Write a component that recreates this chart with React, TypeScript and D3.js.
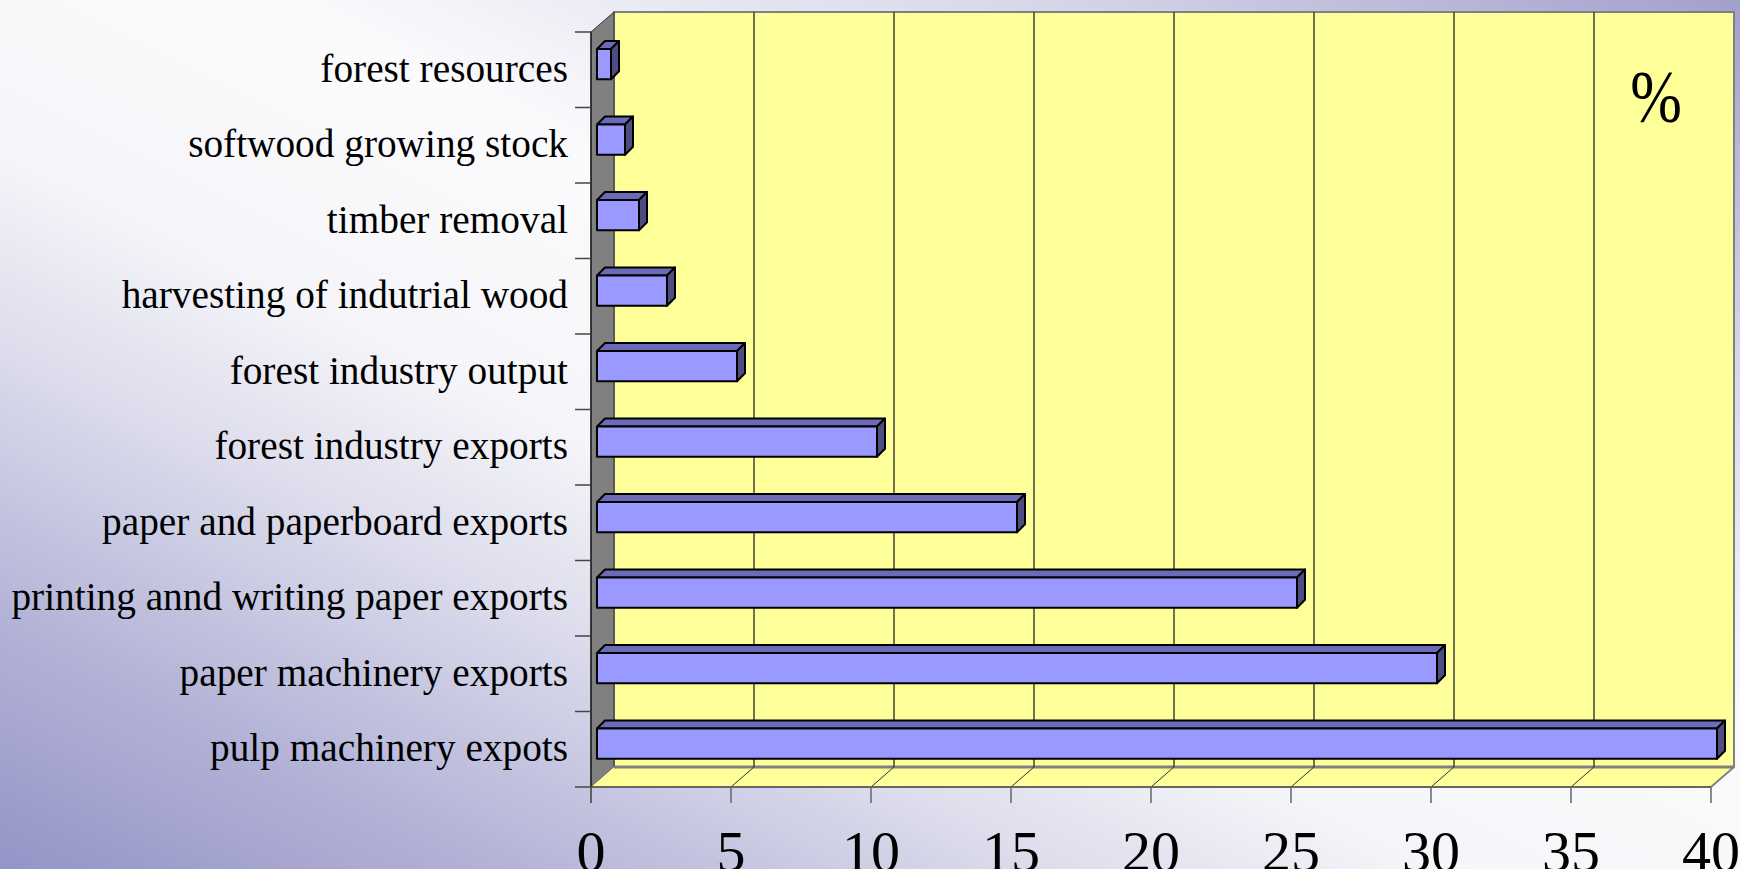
import * as d3 from 'd3';

const categories = [
  'forest resources',
  'softwood growing stock',
  'timber removal',
  'harvesting of indutrial wood',
  'forest industry output',
  'forest industry exports',
  'paper and paperboard exports',
  'printing annd writing paper exports',
  'paper machinery exports',
  'pulp machinery expots',
];
const values = [0.5, 1, 1.5, 2.5, 5, 10, 15, 25, 30, 40];
const xTicks = [0, 5, 10, 15, 20, 25, 30, 35, 40];
const unitLabel = '%';

const W = 1740;
const H = 869;
// front plane of the 3D box and its depth offset
const FRONT = { left: 591, right: 1711, top: 32, bottom: 787 };
const DX = 23;
const DY = 20;
// bar depth offsets
const BDX = 8;
const BDY = 8;

export default function App() {
  const x = d3.scaleLinear().domain([0, 40]).range([FRONT.left, FRONT.right]);
  const y = d3.scaleBand<string>().domain(categories).range([FRONT.top, FRONT.bottom]);
  const bw = y.bandwidth();
  const barTop = bw * 0.225;
  const barH = bw * 0.4;
  const barShift = 6;

  const backTop = FRONT.top - DY;
  const backBottom = FRONT.bottom - DY;
  const bx = (v: number) => x(v) + DX;

  const pts = (p: [number, number][]) => p.map(d => d.join(',')).join(' ');

  return (
    <svg
      width={W}
      height={H}
      style={{ position: 'absolute', left: 0, top: 0, display: 'block' }}
      fontFamily="'Liberation Serif', 'Times New Roman', serif"
    >
      <defs>
        <linearGradient id="bg" x1={0} y1={1} x2={1} y2={0}>
          <stop offset="0" stopColor="#9494c7" />
          <stop offset="0.15" stopColor="#b4b4d8" />
          <stop offset="0.3" stopColor="#dcdcec" />
          <stop offset="0.42" stopColor="#f6f6fa" />
          <stop offset="0.58" stopColor="#fbfbfd" />
          <stop offset="0.8" stopColor="#d6d6e9" />
          <stop offset="1" stopColor="#a0a0cc" />
        </linearGradient>
      </defs>
      <rect width={W} height={H} fill="url(#bg)" />

      {/* back wall */}
      <rect
        x={bx(0)}
        y={backTop}
        width={bx(40) - bx(0)}
        height={backBottom - backTop}
        fill="#ffff99"
        stroke="#808080"
        strokeWidth={2}
      />
      {/* side wall */}
      <polygon
        points={pts([
          [x(0), FRONT.top],
          [bx(0), backTop],
          [bx(0), backBottom],
          [x(0), FRONT.bottom],
        ])}
        fill="#808080"
        stroke="#333"
        strokeWidth={1}
      />
      {/* floor */}
      <polygon
        points={pts([
          [x(0), FRONT.bottom],
          [bx(0), backBottom],
          [bx(40), backBottom],
          [x(40), FRONT.bottom],
        ])}
        fill="#ffff99"
      />
      <line x1={bx(0)} x2={bx(40)} y1={backBottom} y2={backBottom} stroke="#808080" strokeWidth={3} />
      <line x1={x(40)} x2={bx(40)} y1={FRONT.bottom} y2={backBottom} stroke="#808080" strokeWidth={2} />

      {/* gridlines */}
      {xTicks.slice(1, -1).map(t => (
        <g key={t}>
          <line x1={bx(t)} x2={bx(t)} y1={backTop} y2={backBottom} stroke="#45453a" strokeWidth={1.5} />
          <line x1={x(t)} x2={bx(t)} y1={FRONT.bottom} y2={backBottom} stroke="#333" strokeWidth={1} />
        </g>
      ))}

      {/* axes */}
      <line x1={x(0)} x2={x(40)} y1={FRONT.bottom} y2={FRONT.bottom} stroke="#666" strokeWidth={2} />
      <line x1={x(0)} x2={x(0)} y1={FRONT.top} y2={FRONT.bottom + 16} stroke="#222" strokeWidth={1.5} />
      {xTicks.map(t => (
        <g key={t}>
          <line x1={x(t)} x2={x(t)} y1={FRONT.bottom} y2={FRONT.bottom + 16} stroke="#666" strokeWidth={1.5} />
          <text x={x(t)} y={871} textAnchor="middle" fontSize={58} fill="#000">
            {t}
          </text>
        </g>
      ))}
      {d3.range(categories.length + 1).map(i => {
        const yy = FRONT.top + bw * i;
        return <line key={i} x1={FRONT.left - 16} x2={FRONT.left} y1={yy} y2={yy} stroke="#444" strokeWidth={1.5} />;
      })}

      {/* category labels */}
      {categories.map(c => (
        <text
          key={c}
          x={568}
          y={(y(c) ?? 0) + bw / 2}
          dy="0.3em"
          textAnchor="end"
          fontSize={39.3}
          fill="#000"
        >
          {c}
        </text>
      ))}

      {/* 3D bars */}
      {categories.map((c, i) => {
        const x0 = x(0) + barShift;
        const x1 = x(values[i]) + barShift;
        const y0 = (y(c) ?? 0) + barTop;
        const y1 = y0 + barH;
        return (
          <g key={c} stroke="#000" strokeWidth={2} strokeLinejoin="round">
            <polygon
              points={pts([[x0, y0], [x0 + BDX, y0 - BDY], [x1 + BDX, y0 - BDY], [x1, y0]])}
              fill="#6b6bb8"
            />
            <polygon
              points={pts([[x1, y0], [x1 + BDX, y0 - BDY], [x1 + BDX, y1 - BDY], [x1, y1]])}
              fill="#4d4d80"
            />
            <rect x={x0} y={y0} width={x1 - x0} height={barH} fill="#9999ff" />
          </g>
        );
      })}

      <text
        transform="translate(1656,122) scale(0.85,1)"
        textAnchor="middle"
        fontSize={73}
        fill="#000"
      >
        {unitLabel}
      </text>
    </svg>
  );
}
